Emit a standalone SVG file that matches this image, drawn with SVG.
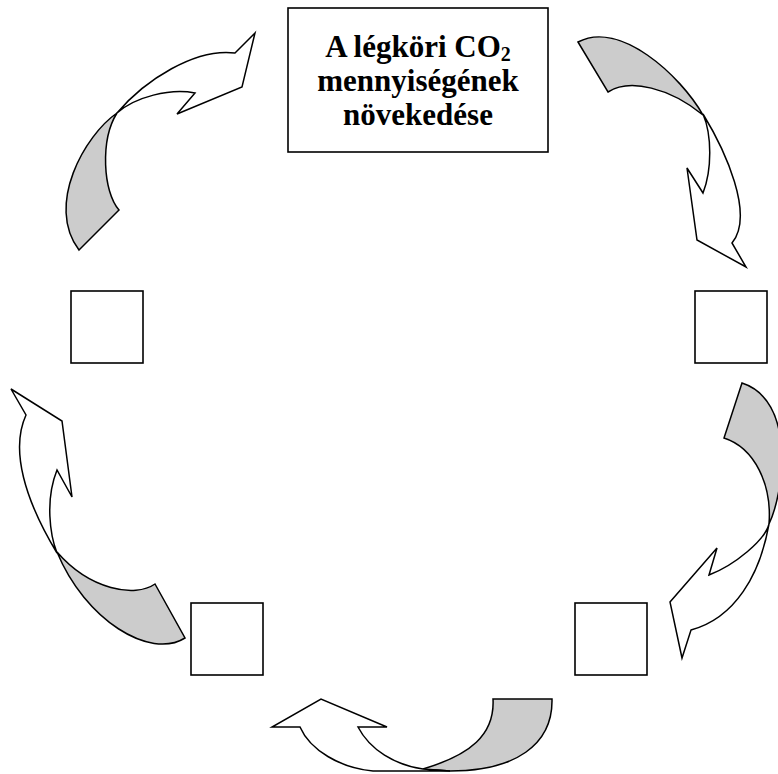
<svg xmlns="http://www.w3.org/2000/svg" width="778" height="774" viewBox="0 0 778 774">
<style>
.box{fill:#fff;stroke:#000;stroke-width:1.6}
.back{fill:#cccccc;stroke:#000;stroke-width:1.5;stroke-linejoin:miter}
.front{fill:#fff;stroke:#000;stroke-width:1.5;stroke-linejoin:miter}
.t{font-family:"Liberation Serif","Times New Roman",serif;font-weight:bold;font-size:31px;text-anchor:middle;fill:#000}
</style>
<rect width="778" height="774" fill="#fff"/>
<g id="connectors">
  <g id="arrow-top-left">
    <path class="back" d="M79,250 L119,210 C103,192 100,140 117,113 C85,135 45,205 79,250 Z"/>
    <path class="front" d="M117,113 C145,80 195,48 235,53 L255,33 L242,87 L177,114 L195,93 C170,88 135,97 117,113 Z"/>
  </g>
  <g id="arrow-top-right">
    <path class="back" d="M578,42 L608,92 C630,78 670,88 703,115 C680,75 620,20 578,42 Z"/>
    <path class="front" d="M703,114 C725,150 755,215 732,243 L746,267 L697,240 L687,168 L703,193 C712,170 712,135 703,114 Z"/>
  </g>
  <g id="arrow-right">
    <path class="back" d="M742,383 L724,438 C755,448 772,485 769,524 C785,490 795,400 742,383 Z"/>
    <path class="front" d="M769,524 C760,575 735,618 691,630 L682,658 L670,602 L717,548 L709,575 C735,565 765,540 769,524 Z"/>
  </g>
  <g id="arrow-bottom">
    <path class="back" d="M493,699 L552,699 C553,745 515,771 450,771 L423,769 C470,755 495,735 493,699 Z"/>
    <path class="front" d="M450,771 L373,771 C340,768 310,750 300,727 L272,727 L321,699 L387,727 L358,727 C370,750 395,765 423,769 Z"/>
  </g>
  <g id="arrow-left">
    <path class="back" d="M155,584 L185,638 C150,660 85,620 57,552 C90,590 135,598 155,584 Z"/>
    <path class="front" d="M57,553 C25,500 10,450 26,415 L11,389 L62,421 L72,497 L57,470 C45,500 50,535 57,553 Z"/>
  </g>
</g>
<g id="node-main">
  <rect class="box" x="288" y="8" width="260" height="144"/>
  <text class="t" x="418" y="57">A légköri CO<tspan font-size="20" dy="4">2</tspan></text>
  <text class="t" x="418" y="91">mennyiségének</text>
  <text class="t" x="418" y="125">növekedése</text>
</g>
<g id="node-left"><rect class="box" x="71" y="291" width="72" height="72"/></g>
<g id="node-right"><rect class="box" x="695" y="291" width="72" height="72"/></g>
<g id="node-bottom-left"><rect class="box" x="191" y="603" width="72" height="72"/></g>
<g id="node-bottom-right"><rect class="box" x="575" y="603" width="72" height="72"/></g>
</svg>
